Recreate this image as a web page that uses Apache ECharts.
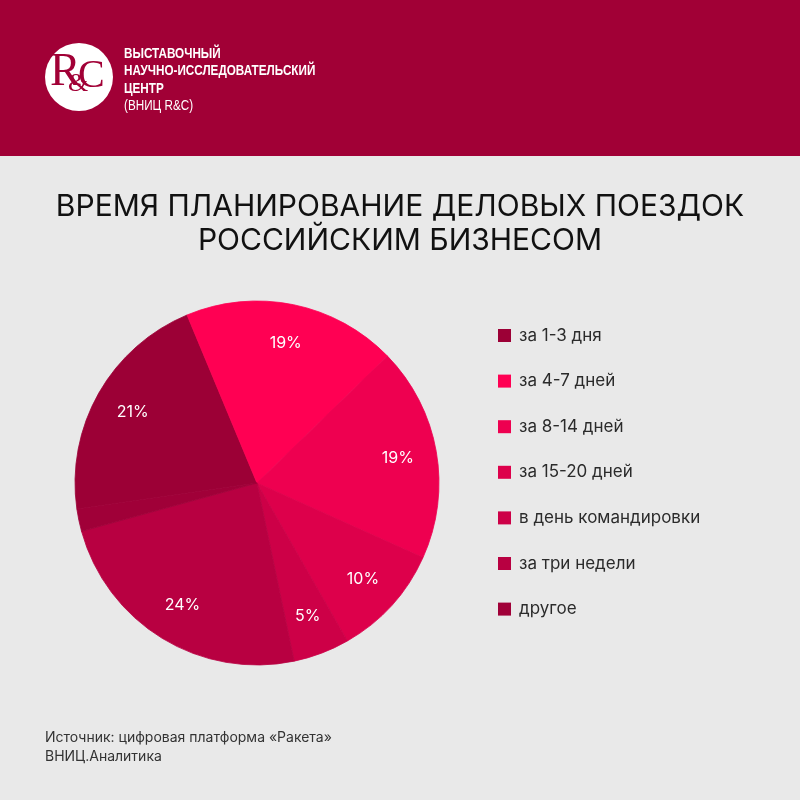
<!DOCTYPE html>
<html><head><meta charset="utf-8">
<script src="https://cdn.jsdelivr.net/npm/echarts@6/dist/echarts.min.js"></script>
<style>html,body{margin:0;padding:0;background:#e9e9e9}#c{width:800px;height:800px}</style>
</head><body><div id="c"></div>
<script>
const categories = ['за 1-3 дня','за 4-7 дней','за 8-14 дней','за 15-20 дней','в день командировки','за три недели','другое'];
const values = [21, 19, 19, 10, 5, 24, 2];
const sliceColors = ['#9c0036','#ff0053','#ee0050','#dd004b','#cd0047','#b80041','#a00038'];
const titleLines = ['ВРЕМЯ ПЛАНИРОВАНИЕ ДЕЛОВЫХ ПОЕЗДОК','РОССИЙСКИМ БИЗНЕСОМ'];
const orgLines = ['ВЫСТАВОЧНЫЙ','НАУЧНО-ИССЛЕДОВАТЕЛЬСКИЙ','ЦЕНТР'];
const orgShort = '(ВНИЦ R&C)';
const sourceLines = ['Источник: цифровая платформа «Ракета»','ВНИЦ.Аналитика'];

const brand = '#a10036';
const data = categories.map((n,i)=>({name:n, value:values[i],
  itemStyle:{color:sliceColors[i], borderColor:sliceColors[i], borderWidth:0.8}}));
const chart = echarts.init(document.getElementById('c'), null, {renderer:'canvas'});
const font = 'Inter, "Open Sans", sans-serif';
const orgFont = '"Liberation Sans", Arial, sans-serif';
chart.setOption({
  backgroundColor:'#e9e9e9',
  animation:false,
  title:{
    text: titleLines.join('\n'), left:'center', top:185,
    textStyle:{fontFamily:font, fontSize:30, fontWeight:400, color:'#111', lineHeight:34}
  },
  legend:{
    orient:'vertical', left:493, top:322, itemWidth:13, itemHeight:13, itemGap:28.6,
    icon:'rect', data:categories,
    itemStyle:{borderWidth:0},
    textStyle:{fontFamily:font, fontSize:17, color:'#2b2b2b', lineHeight:17, padding:[0,0,0,3]}
  },
  graphic:[
    {type:'rect', shape:{x:0,y:0,width:800,height:156}, style:{fill:brand}, z:-1},
    {type:'circle', shape:{cx:79,cy:77,r:34}, style:{fill:'#fff'}},
    {type:'text', x:50, y:50, style:{text:'R', font:'400 46px "Liberation Serif", serif', fill:brand}},
    {type:'text', x:68, y:71, style:{text:'&', font:'400 26px "Liberation Serif", serif', fill:brand}},
    {type:'text', x:78, y:56, style:{text:'C', font:'400 40px "Liberation Serif", serif', fill:brand}},
    {type:'group', x:124, y:45, scaleX:0.78, children:[
      {type:'text', x:0, y:0, style:{text:orgLines.join('\n'), font:'700 15px '+orgFont, lineHeight:17.5, fill:'#fff'}},
      {type:'text', x:0, y:53, style:{text:orgShort, font:'400 15px '+orgFont, fill:'#fff'}}
    ]},
    {type:'text', x:45, y:728, style:{text:sourceLines.join('\n'), font:'400 14px '+font, lineHeight:19, fill:'#333'}}
  ],
  series:[
    {type:'pie', center:[257,483], radius:[0,182], startAngle:188.2, clockwise:true,
     data:data, label:{show:false}, labelLine:{show:false}, emphasis:{disabled:true}},
    {type:'pie', center:[257,483], radius:[98,182], startAngle:188.2, clockwise:true, silent:true,
     data:categories.map((n,i)=>({name:n, value:values[i]})),
     itemStyle:{color:'rgba(0,0,0,0)', borderWidth:0}, tooltip:{show:false}, emphasis:{disabled:true},
     label:{show:true, position:'inside', color:'#fff', fontFamily:font, fontSize:16,
       formatter:p=> p.value>=5 ? p.value+'%' : ''},
     labelLine:{show:false}}
  ]
});
</script></body></html>
